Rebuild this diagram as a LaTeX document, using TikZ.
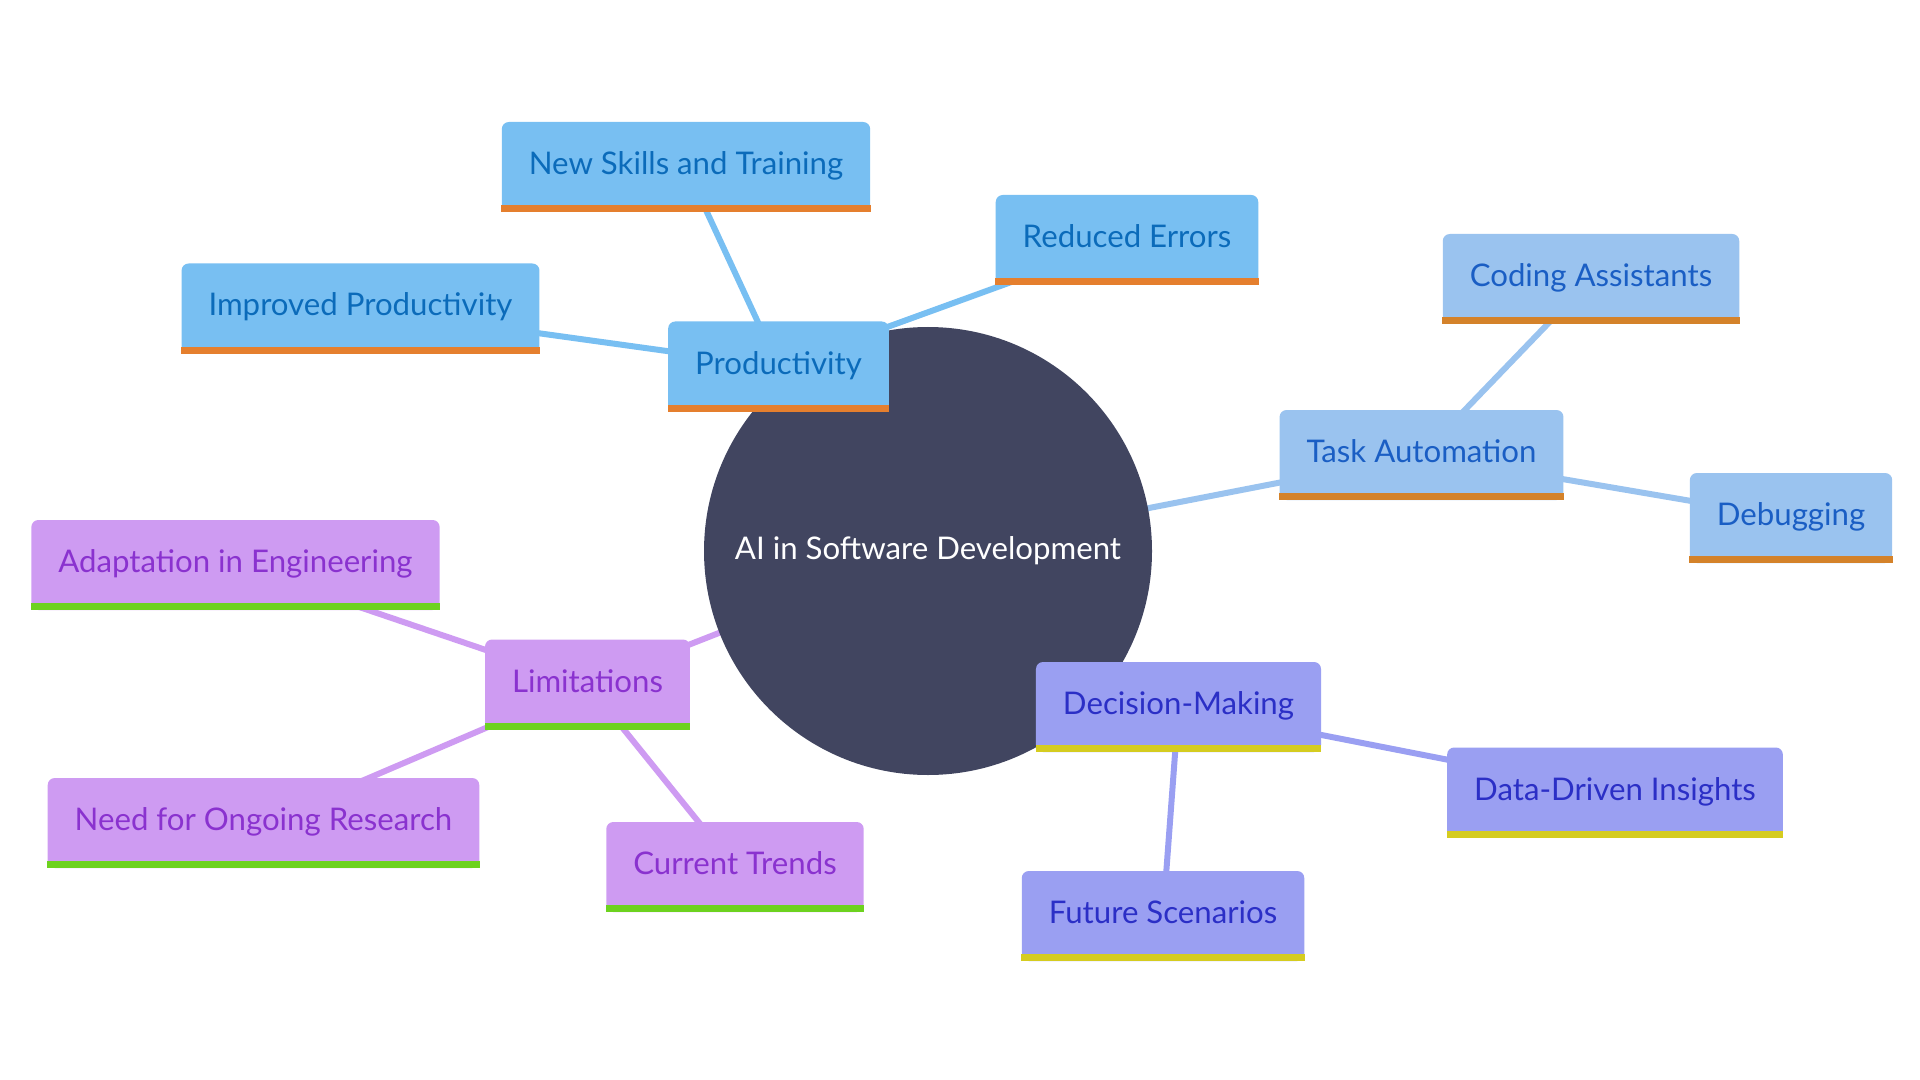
\documentclass[tikz,border=0pt]{standalone}
\usepackage{fontspec}
\setmainfont{Lato}
\usetikzlibrary{backgrounds}
\definecolor{RootFill}{HTML}{414560}
\definecolor{ProdFill}{HTML}{78BFF2}
\definecolor{ProdText}{HTML}{0B6BBA}
\definecolor{ProdLine}{HTML}{E57F2E}
\definecolor{TaskFill}{HTML}{9AC3EF}
\definecolor{TaskText}{HTML}{1A5EC4}
\definecolor{TaskLine}{HTML}{D4822A}
\definecolor{DecFill}{HTML}{9A9FF2}
\definecolor{DecText}{HTML}{2B2FC6}
\definecolor{DecLine}{HTML}{D5CC20}
\definecolor{LimFill}{HTML}{CE9BF2}
\definecolor{LimText}{HTML}{8A32CF}
\definecolor{LimLine}{HTML}{6DD21F}

\begin{document}
\begin{tikzpicture}[x=0.5pt,y=-0.5pt]
  \tikzstyle{topic}=[rounded corners=3.5pt,minimum height=45pt,inner xsep=13.5pt,
    text height=11pt,text depth=3.5pt,font=\fontsize{15.6}{18}\selectfont]
  \tikzstyle{prodbox}=[topic,fill=ProdFill,text=ProdText]
  \tikzstyle{taskbox}=[topic,fill=TaskFill,text=TaskText]
  \tikzstyle{decbox}=[topic,fill=DecFill,text=DecText]
  \tikzstyle{limbox}=[topic,fill=LimFill,text=LimText]
  \tikzstyle{link}=[line width=3pt]
  \useasboundingbox (0,0) rectangle (1920,1080);
  % centre
  \node[circle,fill=RootFill,minimum size=224pt,text=white,
    font=\fontsize{15.6}{18}\selectfont] (root) at (928,551) {AI in Software Development};
  % branches
  \node[prodbox] (prod) at (778.5,366.5) {Productivity};
  \node[prodbox] (skills) at (686,167) {New Skills and Training};
  \node[prodbox] (errors) at (1127,240) {Reduced Errors};
  \node[prodbox] (improved) at (360.5,308.5) {Improved Productivity};
  \node[taskbox] (task) at (1421.5,455) {Task Automation};
  \node[taskbox] (coding) at (1591,279) {Coding Assistants};
  \node[taskbox] (debug) at (1791,518) {Debugging};
  \node[decbox] (decide) at (1178.5,707) {Decision-Making};
  \node[decbox] (insights) at (1615,792.5) {Data-Driven Insights};
  \node[decbox] (future) at (1163,916) {Future Scenarios};
  \node[limbox] (limits) at (587.5,684.5) {Limitations};
  \node[limbox] (adapt) at (235.5,565) {Adaptation in Engineering};
  \node[limbox] (research) at (263.5,823) {Need for Ongoing Research};
  \node[limbox] (trends) at (735,867) {Current Trends};
  % bottom bars
  \foreach \n/\c in {prod/ProdLine,skills/ProdLine,errors/ProdLine,improved/ProdLine,
      task/TaskLine,coding/TaskLine,debug/TaskLine,
      decide/DecLine,insights/DecLine,future/DecLine,
      limits/LimLine,adapt/LimLine,research/LimLine,trends/LimLine}
    \fill[\c] (\n.south west) rectangle ([yshift=3.5pt]\n.south east);
  % links
  \begin{scope}[on background layer]
    \draw[link,ProdFill] (root.center)--(prod.center);
    \draw[link,ProdFill] (prod.center)--(skills.center);
    \draw[link,ProdFill] (prod.center)--(errors.center);
    \draw[link,ProdFill] (prod.center)--(improved.center);
    \draw[link,TaskFill] (root.center)--(task.center);
    \draw[link,TaskFill] (task.center)--(coding.center);
    \draw[link,TaskFill] (task.center)--(debug.center);
    \draw[link,DecFill] (root.center)--(decide.center);
    \draw[link,DecFill] (decide.center)--(insights.center);
    \draw[link,DecFill] (decide.center)--(future.center);
    \draw[link,LimFill] (root.center)--(limits.center);
    \draw[link,LimFill] (limits.center)--(adapt.center);
    \draw[link,LimFill] (limits.center)--(research.center);
    \draw[link,LimFill] (limits.center)--(trends.center);
  \end{scope}
\end{tikzpicture}
\end{document}
